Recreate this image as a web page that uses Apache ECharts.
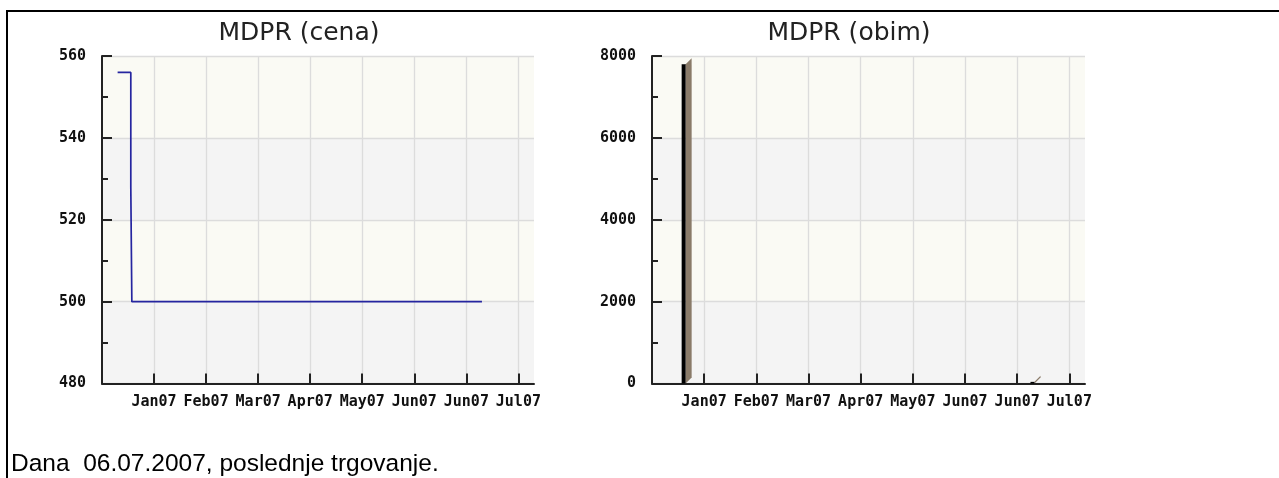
<!DOCTYPE html>
<html>
<head>
<meta charset="utf-8">
<script src="https://cdn.jsdelivr.net/npm/echarts@6/dist/echarts.min.js"></script>
<style>
html,body{margin:0;padding:0;background:#fff;}
#c{width:1279px;height:478px;}
</style>
</head>
<body>
<div id="c"></div>
<script>
// ---- data ----
const monthLabels = ['Jan07','Feb07','Mar07','Apr07','May07','Jun07','Jun07','Jul07'];
const tickDays = [30,60,90,120,150,180,210,240];
const priceDays = [9, 16.6, 17.2, 219];
const priceValues = [556, 528, 500, 500];
const volumeDays = [18.2, 218.8];
const volumeValues = [7800, 40];
const priceTicks = {min: 480, max: 560, interval: 20};
const volumeTicks = {min: 0, max: 8000, interval: 2000};
const titles = ['MDPR (cena)', 'MDPR (obim)'];
const footer = 'Dana  06.07.2007, poslednje trgovanje.';

const axisFont = {fontFamily: 'DejaVu Sans Mono', fontWeight: 'bold', fontSize: 15, color: '#111'};

function xAxisCfg(gridIndex) {
  return {
    type: 'value', gridIndex: gridIndex, min: 0, max: 249, interval: 30,
    axisLine: {show: true, onZero: false, lineStyle: {color: '#222', width: 2}},
    axisTick: {show: true, inside: true, length: 10, lineStyle: {color: '#222', width: 2}, customValues: tickDays},
    axisLabel: Object.assign({margin: 11, customValues: tickDays,
      formatter: function (v) { const i = tickDays.indexOf(Math.round(v)); return i >= 0 ? monthLabels[i] : ''; }}, axisFont),
    splitLine: {show: true, lineStyle: {color: '#dcdcdc', width: 1.3}},
    minorTick: {show: false}
  };
}
function yAxisCfg(gridIndex, t) {
  return {
    type: 'value', gridIndex: gridIndex, min: t.min, max: t.max, interval: t.interval,
    axisLine: {show: true, onZero: false, lineStyle: {color: '#222', width: 2}},
    axisTick: {show: true, inside: true, length: 10, lineStyle: {color: '#222', width: 2}},
    minorTick: {show: true, splitNumber: 2, length: 6, lineStyle: {color: '#222', width: 2}},
    axisLabel: Object.assign({margin: 16, formatter: function (v) { return String(v); }}, axisFont),
    splitLine: {show: true, lineStyle: {color: '#dcdcdc', width: 1.3}},
    splitArea: {show: true, areaStyle: {color: ['#f4f4f4', '#fafaf4']}}
  };
}

const chart = echarts.init(document.getElementById('c'), null, {renderer: 'canvas'});
chart.setOption({
  animation: false,
  backgroundColor: '#fff',
  grid: [
    {left: 102, top: 56, width: 432, height: 327.5, containLabel: false},
    {left: 652, top: 56, width: 433, height: 327.5, containLabel: false}
  ],
  xAxis: [xAxisCfg(0), xAxisCfg(1)],
  yAxis: [yAxisCfg(0, priceTicks), yAxisCfg(1, volumeTicks)],
  graphic: [
    {type: 'rect', z: 100, shape: {x: 7, y: 11, width: 1400, height: 600},
      style: {fill: 'none', stroke: '#000', lineWidth: 2}},
    {type: 'text', x: 299, y: 33, style: {text: titles[0], align: 'center', verticalAlign: 'middle',
      font: '25px "DejaVu Sans"', fill: '#222'}},
    {type: 'text', x: 849, y: 33, style: {text: titles[1], align: 'center', verticalAlign: 'middle',
      font: '25px "DejaVu Sans"', fill: '#222'}},
    {type: 'text', x: 11, y: 452, style: {text: footer, align: 'left', verticalAlign: 'top',
      font: '24.5px "Liberation Sans"', fill: '#000'}}
  ],
  series: [
    {
      type: 'line', xAxisIndex: 0, yAxisIndex: 0, step: 'end', symbol: 'none',
      lineStyle: {color: '#2525a0', width: 1.7},
      data: priceDays.map((d, i) => [d, priceValues[i]])
    },
    {
      type: 'custom', xAxisIndex: 1, yAxisIndex: 1, clip: false,
      data: volumeDays.map((d, i) => [d, volumeValues[i]]),
      renderItem: function (params, api) {
        const top = api.coord([api.value(0), api.value(1)]);
        const base = api.coord([api.value(0), 0]);
        const w = 4, d = 6;
        const x0 = top[0] - w / 2, x1 = top[0] + w / 2;
        return {type: 'group', children: [
          {type: 'polygon', shape: {points: [[x1, top[1]], [x1 + d, top[1] - d], [x1 + d, base[1] - d], [x1, base[1]]]},
            style: {fill: '#8a7b69'}},
          {type: 'rect', shape: {x: x0, y: top[1], width: w, height: base[1] - top[1]}, style: {fill: '#000'}}
        ]};
      }
    }
  ]
});
</script>
</body>
</html>
